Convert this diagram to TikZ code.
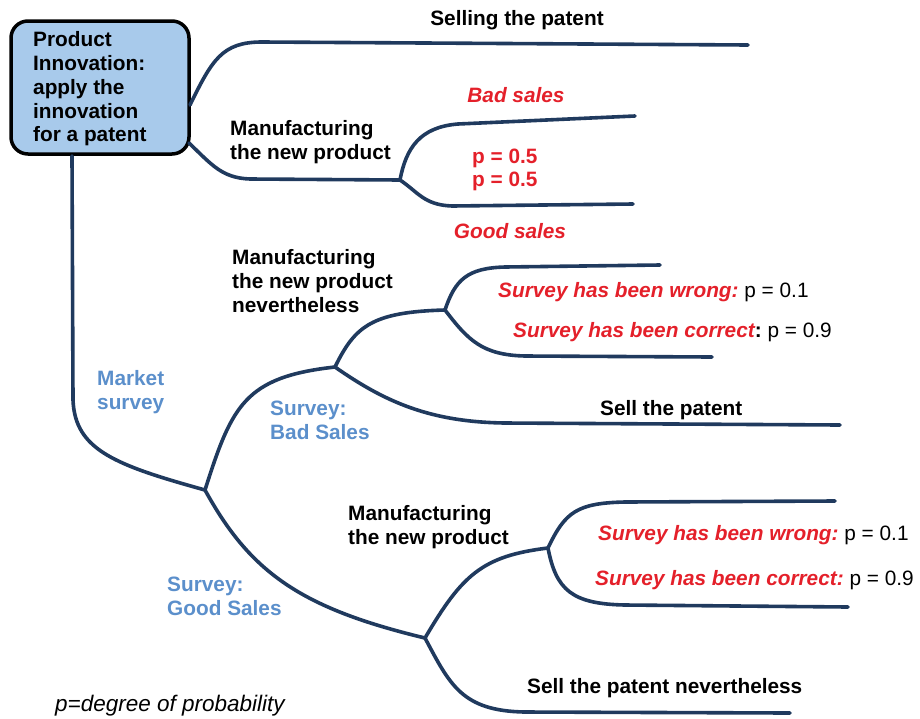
\documentclass[tikz,border=0pt]{standalone}
\usepackage{fontspec}
\setmainfont{Liberation Sans}
\newcommand{\plainp}[1]{{\color{black}\mdseries\upshape #1}}
\begin{document}
\begin{tikzpicture}[x=1pt,y=-1pt,
  branch/.style={draw=navy,line width=3.6pt,line cap=round,line join=round},
  lbl/.style={inner sep=0pt,align=left,font=\fontsize{20.8}{23.7}\selectfont\bfseries},
  redlbl/.style={lbl,text=redc,font=\fontsize{20.8}{23.7}\selectfont\bfseries\itshape},
  bluelbl/.style={lbl,text=bluec},
  rootbox/.style={draw=black,line width=3.5pt,fill=boxfill,rounded corners=17pt,
     minimum width=178pt,minimum height=133pt,inner sep=0pt}]
\definecolor{navy}{HTML}{203A5E}
\definecolor{redc}{HTML}{E4202A}
\definecolor{bluec}{HTML}{5B8FCB}
\definecolor{boxfill}{HTML}{A8CAEB}
\useasboundingbox (0,0) rectangle (920,718);

% root box
\node[rootbox] (root) at (100,87.5) {};
\node[lbl,anchor=west] (roottext) at (33,89)
  {Product\\Innovation:\\apply the\\innovation\\for a patent};

% coordinates of forks and ends
\coordinate (r1) at (190,105);
\coordinate (r2) at (189,143);
\coordinate (r3) at (72,156);
\coordinate (e1) at (748,45);
\coordinate (m1) at (400,180);
\coordinate (e2) at (635,116);
\coordinate (e3) at (633,204);
\coordinate (s1) at (205,490);
\coordinate (s2) at (335,367);
\coordinate (s3) at (425,638);
\coordinate (s4) at (445,310);
\coordinate (s5) at (548,548);
\coordinate (e4) at (660,265);
\coordinate (e5) at (712,357);
\coordinate (e6) at (840,425);
\coordinate (e7) at (835,501);
\coordinate (e8) at (848,607);
\coordinate (e9) at (790,713);

% branches
\draw[branch] (r1) .. controls (212,60) and (222,42) .. (262,42) -- (e1);
\draw[branch] (r2) .. controls (212,165) and (222,178) .. (250,179) -- (m1);
\draw[branch] (m1) .. controls (406,148) and (420,127) .. (458,124) -- (e2);
\draw[branch] (m1) .. controls (418,192) and (424,205) .. (452,206) -- (e3);
\draw[branch] (r3) -- (73,400) .. controls (75,450) and (115,465) .. (s1);
\draw[branch] (s1) .. controls (232,405) and (245,377) .. (s2);
\draw[branch] (s1) .. controls (250,572) and (300,608) .. (s3);
\draw[branch] (s2) .. controls (355,326) and (372,312) .. (s4);
\draw[branch] (s2) .. controls (385,402) and (430,422) .. (505,423) -- (e6);
\draw[branch] (s4) .. controls (455,280) and (467,268) .. (505,267) -- (e4);
\draw[branch] (s4) .. controls (468,340) and (482,355) .. (525,356) -- (e5);
\draw[branch] (s3) .. controls (462,575) and (482,556) .. (s5);
\draw[branch] (s3) .. controls (450,685) and (462,711) .. (525,712) -- (e9);
\draw[branch] (s5) .. controls (565,512) and (577,503) .. (625,502) -- (e7);
\draw[branch] (s5) .. controls (556,590) and (572,604) .. (625,605) -- (e8);

% labels
\node[lbl] (t1) at (517,20) {Selling the patent};
\node[lbl,anchor=west] (t2) at (230,142) {Manufacturing\\the new product};
\node[redlbl] (t3) at (516,95) {Bad sales};
\node[lbl,text=redc,anchor=west] (t4) at (472,170) {p = 0.5\\p = 0.5};
\node[redlbl] (t5) at (510,231) {Good sales};
\node[lbl,anchor=west] (t6) at (232,281) {Manufacturing\\the new product\\nevertheless};
\node[redlbl,anchor=west] (t7) at (498,292) {Survey has been wrong:\ \plainp{p = 0.1}};
\node[redlbl,anchor=west] (t8) at (513,332) {Survey has been correct{\color{black}\upshape:}\ \plainp{p = 0.9}};
\node[bluelbl,anchor=west] (t9) at (97,392) {Market\\survey};
\node[bluelbl,anchor=west] (t10) at (270,420) {Survey:\\Bad Sales};
\node[lbl,anchor=west] (t11) at (600,410) {Sell the patent};
\node[bluelbl,anchor=west] (t12) at (167,596) {Survey:\\Good Sales};
\node[lbl,anchor=west] (t13) at (348,527) {Manufacturing\\the new product};
\node[redlbl,anchor=west] (t14) at (598,535) {Survey has been wrong:\ \plainp{p = 0.1}};
\node[redlbl,anchor=west] (t15) at (595,580) {Survey has been correct:\ \plainp{p = 0.9}};
\node[lbl,anchor=west] (t16) at (527,688) {Sell the patent nevertheless};
\node[lbl,anchor=west,font=\fontsize{22.5}{26}\selectfont\itshape] (t17) at (55,706) {p=degree of probability};
\end{tikzpicture}
\end{document}
